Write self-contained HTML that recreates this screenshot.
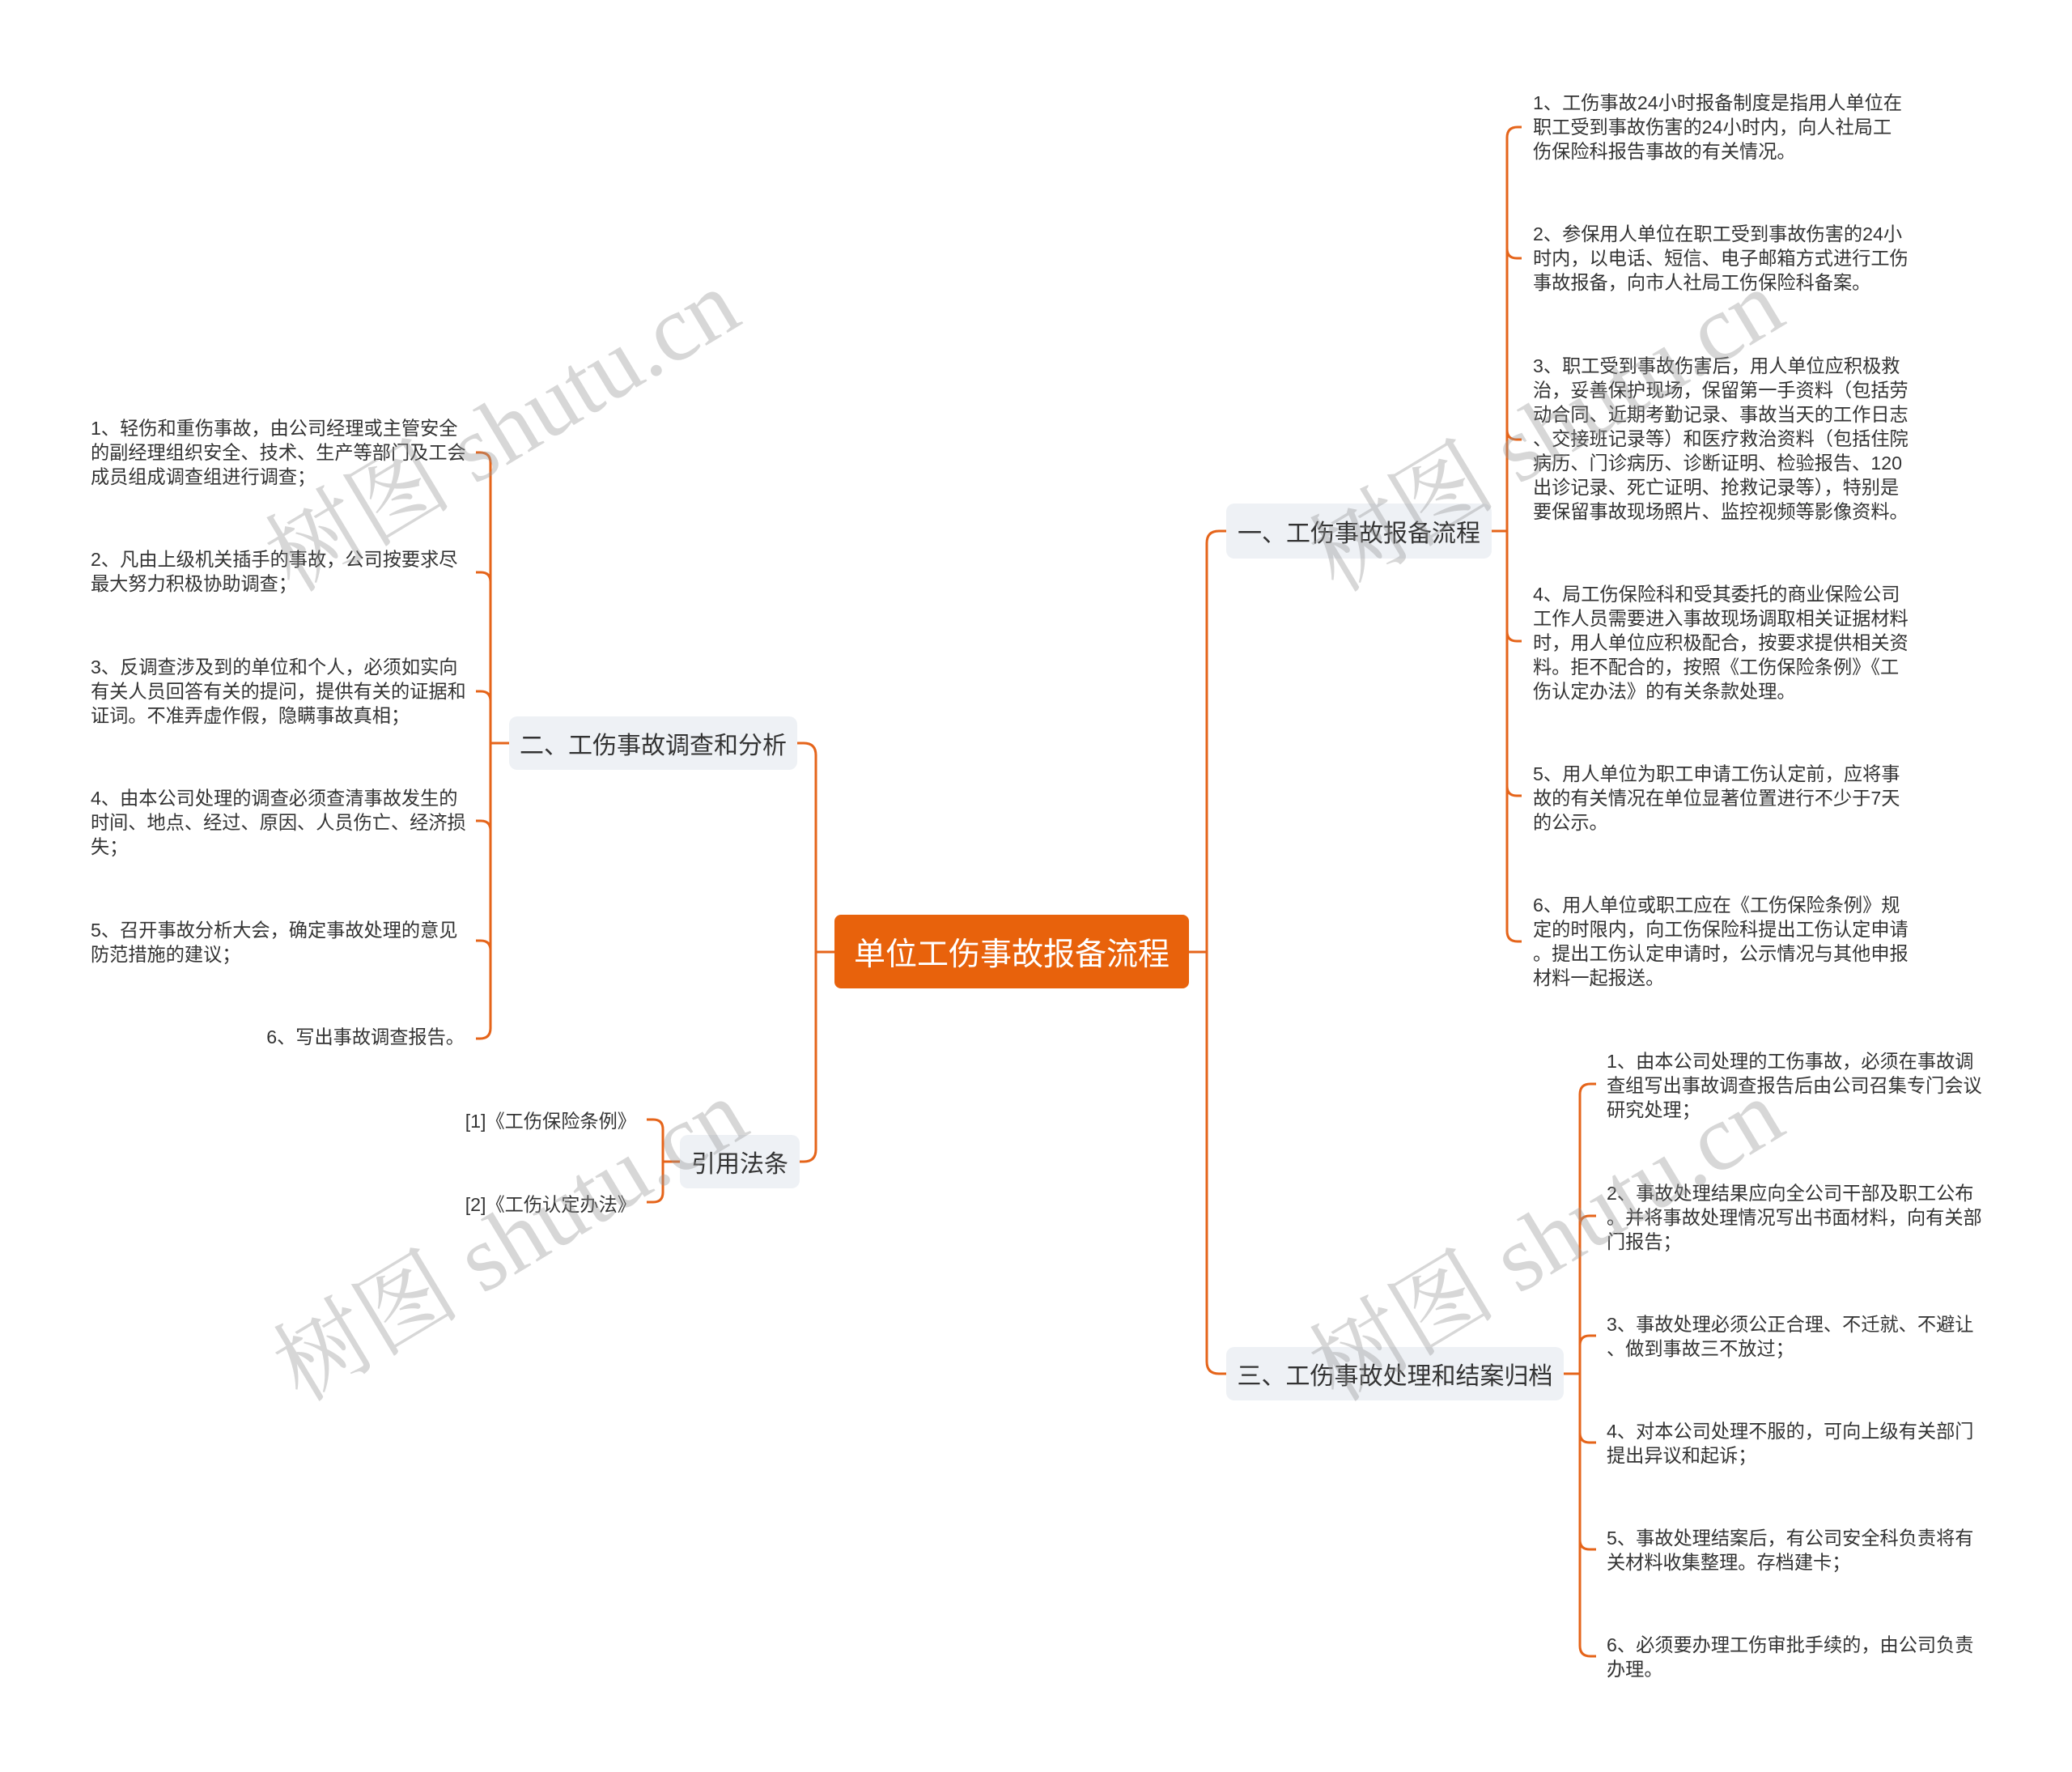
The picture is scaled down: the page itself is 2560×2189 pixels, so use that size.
<!DOCTYPE html>
<html><head><meta charset="utf-8">
<style>
html,body{margin:0;padding:0;background:#fff;}
#c{position:relative;width:2560px;height:2189px;overflow:hidden;background:#fff;font-family:"Liberation Sans","Noto Sans CJK SC",sans-serif;color:#333;}
.t{position:absolute;font-size:23.2px;line-height:30px;white-space:nowrap;color:#333;}
.b{position:absolute;background:#eef1f5;border-radius:10px;font-size:30px;color:#333;display:flex;align-items:center;justify-content:center;white-space:nowrap;}
.wm{position:absolute;font-family:"Liberation Serif","Noto Serif CJK SC",serif;font-size:116px;color:rgba(150,150,150,0.38);white-space:nowrap;transform:rotate(-31deg);transform-origin:center;}
svg{position:absolute;left:0;top:0;}
</style></head><body><div id="c">
<svg width="2560" height="2189" fill="none" stroke="#e5641a" stroke-width="3">
<path d="M1008,1176 H1031"/><path d="M1469,1176 H1491"/>
<path d="M985,918 H993 Q1008,918 1008,933 V1420 Q1008,1435 993,1435 H986"/>
<path d="M1515,656 H1506 Q1491,656 1491,671 V1682 Q1491,1697 1506,1697 H1515"/>
<path d="M1843,656 H1862"/>
<path d="M1880,157 H1875 Q1862,157 1862,170 V1150 Q1862,1163 1875,1163 H1880"/>
<path d="M1862,307 Q1862,319 1874,319 H1880"/>
<path d="M1862,531 Q1862,543 1874,543 H1880"/>
<path d="M1862,780 Q1862,792 1874,792 H1880"/>
<path d="M1862,971 Q1862,983 1874,983 H1880"/>
<path d="M606,918 H629"/>
<path d="M588,559 H593 Q606,559 606,572 V1270 Q606,1283 593,1283 H588"/>
<path d="M606,719 Q606,707 594,707 H588"/>
<path d="M606,866 Q606,854 594,854 H588"/>
<path d="M606,1026 Q606,1014 594,1014 H588"/>
<path d="M606,1174 Q606,1162 594,1162 H588"/>
<path d="M819,1435 H840"/>
<path d="M799,1383 H807 Q819,1383 819,1395 V1473 Q819,1485 807,1485 H799"/>
<path d="M1932,1697 H1952"/>
<path d="M1972,1339 H1965 Q1952,1339 1952,1352 V2033 Q1952,2046 1965,2046 H1972"/>
<path d="M1952,1514 Q1952,1502 1964,1502 H1972"/>
<path d="M1952,1662 Q1952,1650 1964,1650 H1972"/>
<path d="M1952,1770 Q1952,1782 1964,1782 H1972"/>
<path d="M1952,1902 Q1952,1914 1964,1914 H1972"/>
</svg>

<div style="position:absolute;left:1031px;top:1130px;width:438px;height:91px;background:#e8620c;border-radius:8px;color:#fff;font-size:39px;display:flex;align-items:center;justify-content:center;white-space:nowrap;">单位工伤事故报备流程</div>

<div class="b" style="left:1515px;top:622px;width:328px;height:68px;">一、工伤事故报备流程</div>
<div class="b" style="left:629px;top:885px;width:356px;height:66px;">二、工伤事故调查和分析</div>
<div class="b" style="left:840px;top:1402px;width:148px;height:66px;">引用法条</div>
<div class="b" style="left:1515px;top:1664px;width:417px;height:66px;">三、工伤事故处理和结案归档</div>

<div class="t" style="left:1894px;top:112px;">1、工伤事故24小时报备制度是指用人单位在<br>职工受到事故伤害的24小时内，向人社局工<br>伤保险科报告事故的有关情况。</div>
<div class="t" style="left:1894px;top:274px;">2、参保用人单位在职工受到事故伤害的24小<br>时内，以电话、短信、电子邮箱方式进行工伤<br>事故报备，向市人社局工伤保险科备案。</div>
<div class="t" style="left:1894px;top:437px;">3、职工受到事故伤害后，用人单位应积极救<br>治，妥善保护现场，保留第一手资料（包括劳<br>动合同、近期考勤记录、事故当天的工作日志<br>、交接班记录等）和医疗救治资料（包括住院<br>病历、门诊病历、诊断证明、检验报告、120<br>出诊记录、死亡证明、抢救记录等），特别是<br>要保留事故现场照片、监控视频等影像资料。</div>
<div class="t" style="left:1894px;top:719px;">4、局工伤保险科和受其委托的商业保险公司<br>工作人员需要进入事故现场调取相关证据材料<br>时，用人单位应积极配合，按要求提供相关资<br>料。拒不配合的，按照《工伤保险条例》《工<br>伤认定办法》的有关条款处理。</div>
<div class="t" style="left:1894px;top:941px;">5、用人单位为职工申请工伤认定前，应将事<br>故的有关情况在单位显著位置进行不少于7天<br>的公示。</div>
<div class="t" style="left:1894px;top:1103px;">6、用人单位或职工应在《工伤保险条例》规<br>定的时限内，向工伤保险科提出工伤认定申请<br>。提出工伤认定申请时，公示情况与其他申报<br>材料一起报送。</div>

<div class="t" style="left:112px;top:514px;">1、轻伤和重伤事故，由公司经理或主管安全<br>的副经理组织安全、技术、生产等部门及工会<br>成员组成调查组进行调查；</div>
<div class="t" style="left:112px;top:676px;">2、凡由上级机关插手的事故，公司按要求尽<br>最大努力积极协助调查；</div>
<div class="t" style="left:112px;top:809px;">3、反调查涉及到的单位和个人，必须如实向<br>有关人员回答有关的提问，提供有关的证据和<br>证词。不准弄虚作假，隐瞒事故真相；</div>
<div class="t" style="left:112px;top:971px;">4、由本公司处理的调查必须查清事故发生的<br>时间、地点、经过、原因、人员伤亡、经济损<br>失；</div>
<div class="t" style="left:112px;top:1134px;">5、召开事故分析大会，确定事故处理的意见<br>防范措施的建议；</div>
<div class="t" style="right:1986px;top:1266px;">6、写出事故调查报告。</div>

<div class="t" style="right:1774px;top:1370px;">[1]《工伤保险条例》</div>
<div class="t" style="right:1774px;top:1473px;">[2]《工伤认定办法》</div>

<div class="t" style="left:1985px;top:1296px;">1、由本公司处理的工伤事故，必须在事故调<br>查组写出事故调查报告后由公司召集专门会议<br>研究处理；</div>
<div class="t" style="left:1985px;top:1459px;">2、事故处理结果应向全公司干部及职工公布<br>。并将事故处理情况写出书面材料，向有关部<br>门报告；</div>
<div class="t" style="left:1985px;top:1621px;">3、事故处理必须公正合理、不迁就、不避让<br>、做到事故三不放过；</div>
<div class="t" style="left:1985px;top:1753px;">4、对本公司处理不服的，可向上级有关部门<br>提出异议和起诉；</div>
<div class="t" style="left:1985px;top:1885px;">5、事故处理结案后，有公司安全科负责将有<br>关材料收集整理。存档建卡；</div>
<div class="t" style="left:1985px;top:2017px;">6、必须要办理工伤审批手续的，由公司负责<br>办理。</div>

<div class="wm" style="left:290px;top:440px;">树图 shutu.cn</div>
<div class="wm" style="left:300px;top:1440px;">树图 shutu.cn</div>
<div class="wm" style="left:1580px;top:440px;">树图 shutu.cn</div>
<div class="wm" style="left:1580px;top:1440px;">树图 shutu.cn</div>
</div></body></html>
